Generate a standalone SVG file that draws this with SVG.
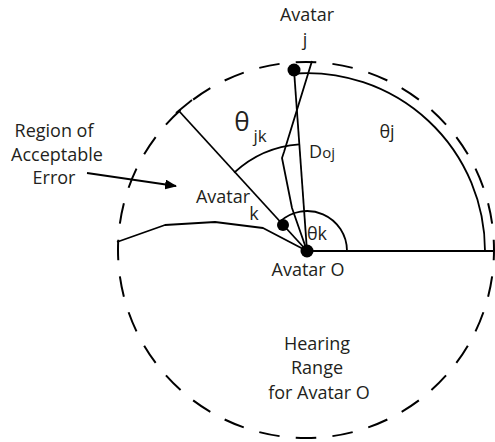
<svg xmlns="http://www.w3.org/2000/svg" width="495" height="442" viewBox="0 0 495 442">
<style>
.ln{fill:none;stroke:#000;stroke-width:1.8;stroke-linejoin:round}
.dash{fill:none;stroke:#000;stroke-width:2}
.dot{fill:#000}
text{font-family:"Open Sans","Noto Sans","Liberation Sans",sans-serif;font-size:18px;fill:#231f20;text-anchor:middle}
text.big{font-size:26px}
text.sub{font-size:17px}
</style>
<defs>
<marker id="ah" viewBox="0 0 12 10" refX="11" refY="5" markerWidth="12" markerHeight="10" markerUnits="userSpaceOnUse" orient="auto">
<path d="M0,0 L12,5 L0,10 Z" fill="#000"/>
</marker>
</defs>
<g id="range">
<circle class="dash" cx="306" cy="250" r="188" pathLength="320" stroke-dasharray="5.6 4.4" stroke-dashoffset="2.8"/>
</g>
<g id="connectors">
<line class="ln" x1="307" y1="251" x2="493" y2="251"/>
<path class="ln" d="M485,251 A178,178 0 0 0 294.3,73.5"/>
<path class="ln" d="M347,251 A40,40 0 0 0 279.8,221.7"/>
<path class="ln" d="M234.2,172.6 A107,107 0 0 1 299.3,144.3"/>
<line class="ln" x1="294" y1="70" x2="307" y2="251"/>
<polyline class="ln" points="312,61 284,152 282,158 292,208 307,251"/>
<line class="ln" x1="179" y1="111" x2="307" y2="251"/>
<line class="ln" x1="176" y1="113" x2="192" y2="100"/>
<polyline class="ln" points="117,242 165,225 215,222 263,228 307,251"/>
<line class="ln" x1="87" y1="173" x2="176" y2="186" marker-end="url(#ah)"/>
</g>
<g id="avatar-j">
<circle class="dot" cx="294" cy="70" r="6.5"/>
<text x="307" y="21">Avatar</text>
<text x="305" y="46">j</text>
</g>
<g id="avatar-k">
<circle class="dot" cx="283" cy="225" r="6"/>
<text x="223" y="203">Avatar</text>
<text x="254" y="220">k</text>
</g>
<g id="avatar-o">
<circle class="dot" cx="307" cy="251" r="6.5"/>
<text x="308" y="276">Avatar O</text>
</g>
<g id="labels">
<text x="54" y="137">Region of</text>
<text x="57" y="161">Acceptable</text>
<text x="54" y="184">Error</text>
<text class="big" x="242" y="131">θ</text>
<text class="sub" x="260" y="142">jk</text>
<text x="387" y="138">θj</text>
<text x="322" y="158">D<tspan font-size="15">oj</tspan></text>
<text x="317" y="240">θk</text>
<text x="317" y="350">Hearing</text>
<text x="317" y="374">Range</text>
<text x="319" y="399">for Avatar O</text>
</g>
</svg>
